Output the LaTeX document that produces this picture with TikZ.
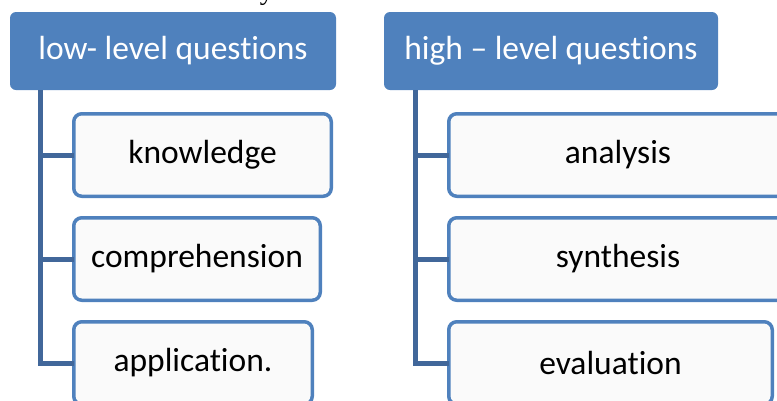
\documentclass[tikz,border=0pt]{standalone}
\usepackage{fontspec}
\setmainfont{Carlito}[Ligatures={TeX,CommonOff}]
\newfontfamily\timesfont{Liberation Serif}
\definecolor{hdrblue}{HTML}{4F81BD}
\definecolor{brdblue}{HTML}{4F81BD}
\definecolor{lnblue}{HTML}{41679A}
\definecolor{boxfill}{HTML}{FAFAFA}
\begin{document}
\begin{tikzpicture}[x=1pt,y=-1pt,
  hdr/.style={fill=hdrblue, draw=none, rounded corners=6pt, inner sep=0pt, outer sep=0pt,
    minimum height=78pt, text=white, font=\fontsize{33.5}{40}\selectfont},
  child/.style={fill=boxfill, draw=brdblue, line width=3.5pt, rounded corners=8pt, inner sep=0pt, outer sep=0pt,
    minimum height=82.5pt, text=black, font=\fontsize{33.5}{40}\selectfont},
  conn/.style={draw=lnblue, line width=5pt}]
\useasboundingbox (0,0) rectangle (777,400);
\begin{scope}
\clip (0,0) rectangle (777,400);
% fragment of text from above
\node[font=\timesfont\fontsize{28}{30}\selectfont, anchor=base east, inner sep=0pt] (frag) at (274,-1) {y};
% left tree
\node[hdr, minimum width=326pt] (lh) at (173,51) {low- level questions};
\node[child, minimum width=257.5pt] (know) at (202.5,155) {knowledge};
\node[child, minimum width=246.5pt] (comp) at (197,259) {comprehension};
\node[child, minimum width=238.5pt] (appl) at (193,363) {application.};
\coordinate (lt) at (40,90);
\draw[conn] (lt) |- (know.west);
\draw[conn] (lt) |- (comp.west);
\draw[conn] (lt) |- (appl.west);
% right tree
\node[hdr, minimum width=334pt] (rh) at (551,51) {high -- level questions};
\node[child, minimum width=338.5pt] (anal) at (618,155) {analysis};
\node[child, minimum width=338.5pt] (synt) at (618,259) {synthesis};
\node[child, minimum width=323.5pt] (eval) at (610.5,363) {evaluation};
\coordinate (rt) at (415,90);
\draw[conn] (rt) |- (anal.west);
\draw[conn] (rt) |- (synt.west);
\draw[conn] (rt) |- (eval.west);
\end{scope}
\end{tikzpicture}
\end{document}
